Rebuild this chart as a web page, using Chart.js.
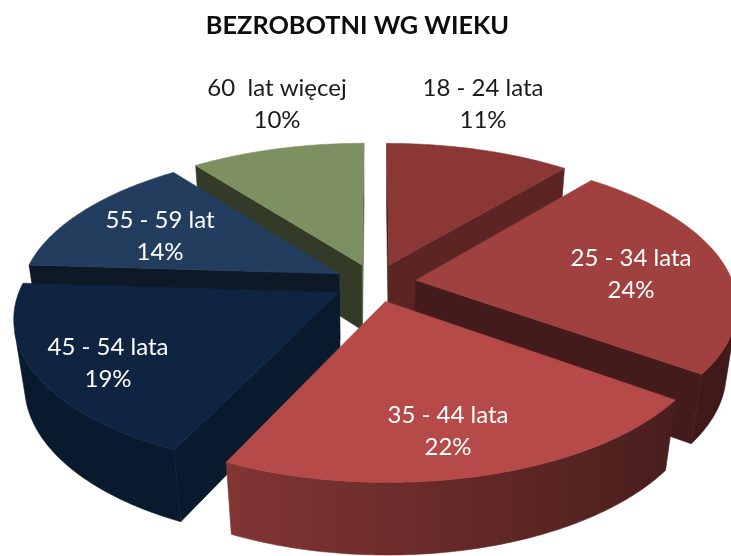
<!DOCTYPE html>
<html>
<head>
<meta charset="utf-8">
<style>
body { margin: 0; background: #fff; }
canvas { display: block; }
</style>
<script src="https://cdn.jsdelivr.net/npm/chart.js@4"></script>
</head>
<body>
<canvas id="pie" width="731" height="556"></canvas>
<script>
const categories = ['18 - 24 lata', '25 - 34 lata', '35 - 44 lata', '45 - 54 lata', '55 - 59 lat', '60  lat więcej'];
const shares = [11, 24, 22, 19, 13.64, 10.36];
const sliceColors = ['#8a3736', '#a0413f', '#b54a48', '#0e2440', '#233d5f', '#7d9061'];

// text anchors for the two line labels (centre x, first line y)
const labelAnchors = [[483, 88], [631, 258], [448, 415], [108, 347], [160, 220], [277, 88]];
const labelColors = ['#1a1a1a', '#fff', '#fff', '#fff', '#fff', '#1a1a1a'];

// 3D look of the pie
const explode = 0.13;
const radiusX = 317;
const radiusY = 146;
const perspective = 0.157;
const depth = 68;
const depthShrink = 0.03;
const arcSteps = 90;
const pieShiftX = 17.5; // title sits left of the pie centre

function project(cx, cy, u, v, z) {
    const s = 1 / (1 - perspective * v + depthShrink * z);
    return [cx + pieShiftX + u * radiusX * s, cy + (v * radiusY + z * depth) * s];
}

function shade(hex, f) {
    const n = parseInt(hex.slice(1), 16);
    return 'rgb(' + Math.round((n >> 16) * f) + ',' + Math.round(((n >> 8) & 255) * f) + ',' + Math.round((n & 255) * f) + ')';
}

// thin stroke in the same paint closes the antialias seams between faces
function fillPoly(ctx, pts, fill) {
    ctx.beginPath();
    pts.forEach((p, i) => i ? ctx.lineTo(p[0], p[1]) : ctx.moveTo(p[0], p[1]));
    ctx.closePath();
    ctx.fillStyle = fill;
    ctx.fill();
    ctx.strokeStyle = fill;
    ctx.lineWidth = 0.6;
    ctx.stroke();
}

function signedArea(pts) {
    let a = 0;
    pts.forEach((p, i) => {
        const q = pts[(i + 1) % pts.length];
        a += p[0] * q[1] - q[0] * p[1];
    });
    return a;
}

function drawSlice(ctx, el) {
    const mid = (el.startAngle + el.endAngle) / 2;
    const du = Math.cos(mid) * explode;
    const dv = Math.sin(mid) * explode;
    const color = el.options.backgroundColor;
    const at = (a, r, z) => project(el.x, el.y, du + Math.cos(a) * r, dv + Math.sin(a) * r, z);

    // straight walls, light comes a bit from the right
    const radialShade = a => 0.41 + 0.33 * Math.max(0, Math.cos(a));
    const radialWall = (p, q, c) => {
        const quad = [p(0), q(0), q(1), p(1)];
        if (signedArea(quad) < 0) fillPoly(ctx, quad, c);
    };
    radialWall(z => at(el.startAngle, 0, z), z => at(el.startAngle, 1, z), shade(color, radialShade(el.startAngle - Math.PI / 2)));
    radialWall(z => at(el.endAngle, 1, z), z => at(el.endAngle, 0, z), shade(color, radialShade(el.endAngle + Math.PI / 2)));

    // outer wall: the part facing us, one polygon with a left to right gradient
    const step = (el.endAngle - el.startAngle) / arcSteps;
    const upper = [];
    const lower = [];
    const tones = [];
    for (let i = 0; i < arcSteps; i++) {
        const a = el.startAngle + i * step;
        const quad = [at(a, 1, 0), at(a + step, 1, 0), at(a + step, 1, 1), at(a, 1, 1)];
        if (signedArea(quad) >= 0) continue;
        if (!upper.length) {
            upper.push(quad[0]);
            lower.push(quad[3]);
        }
        upper.push(quad[1]);
        lower.push(quad[2]);
        const t = Math.min(1, Math.max(0, (Math.cos(a + step / 2) + 0.43) / 1.23));
        tones.push([quad[1][0], shade(color, 0.72 - 0.32 * t)]);
    }
    if (upper.length) {
        const xs = upper.map(p => p[0]).concat(lower.map(p => p[0]));
        const x0 = Math.min(...xs);
        const x1 = Math.max(...xs);
        const grad = ctx.createLinearGradient(x0, 0, x1, 0);
        tones.forEach(t => grad.addColorStop((t[0] - x0) / (x1 - x0), t[1]));
        fillPoly(ctx, upper.concat(lower.reverse()), grad);
    }

    // top face
    const top = [at(el.startAngle, 0, 0)];
    for (let i = 0; i <= arcSteps; i++) {
        top.push(at(el.startAngle + i * step, 1, 0));
    }
    fillPoly(ctx, top, color);
}

const pie3d = {
    id: 'pie3d',
    beforeDatasetsDraw(chart) {
        const ctx = chart.ctx;
        const arcs = chart.getDatasetMeta(0).data.slice();
        // far slices first
        arcs.sort((a, b) => Math.sin((a.startAngle + a.endAngle) / 2) - Math.sin((b.startAngle + b.endAngle) / 2));
        ctx.save();
        arcs.forEach(el => drawSlice(ctx, el));
        ctx.restore();
        return false;
    },
    afterDraw(chart) {
        const ctx = chart.ctx;
        const total = shares.reduce((a, b) => a + b, 0);
        ctx.save();
        ctx.font = '24px Lato';
        ctx.textAlign = 'center';
        ctx.textBaseline = 'middle';
        categories.forEach((name, i) => {
            ctx.fillStyle = labelColors[i];
            ctx.fillText(name, labelAnchors[i][0], labelAnchors[i][1]);
            ctx.fillText(Math.round(shares[i] / total * 100) + '%', labelAnchors[i][0], labelAnchors[i][1] + 32);
        });
        ctx.restore();
    }
};

new Chart(document.getElementById('pie'), {
    type: 'pie',
    data: {
        labels: categories,
        datasets: [{ data: shares, backgroundColor: sliceColors, borderWidth: 0 }]
    },
    options: {
        responsive: false,
        animation: false,
        layout: { padding: { right: 16, bottom: 46 } },
        plugins: {
            legend: { display: false },
            tooltip: { enabled: false },
            title: {
                display: true,
                text: 'BEZROBOTNI WG WIEKU',
                color: '#0d0d0d',
                font: { family: 'Lato', size: 25.3, weight: 'bold' },
                padding: { top: 11, bottom: 14 }
            }
        }
    },
    plugins: [pie3d]
});
</script>
</body>
</html>
